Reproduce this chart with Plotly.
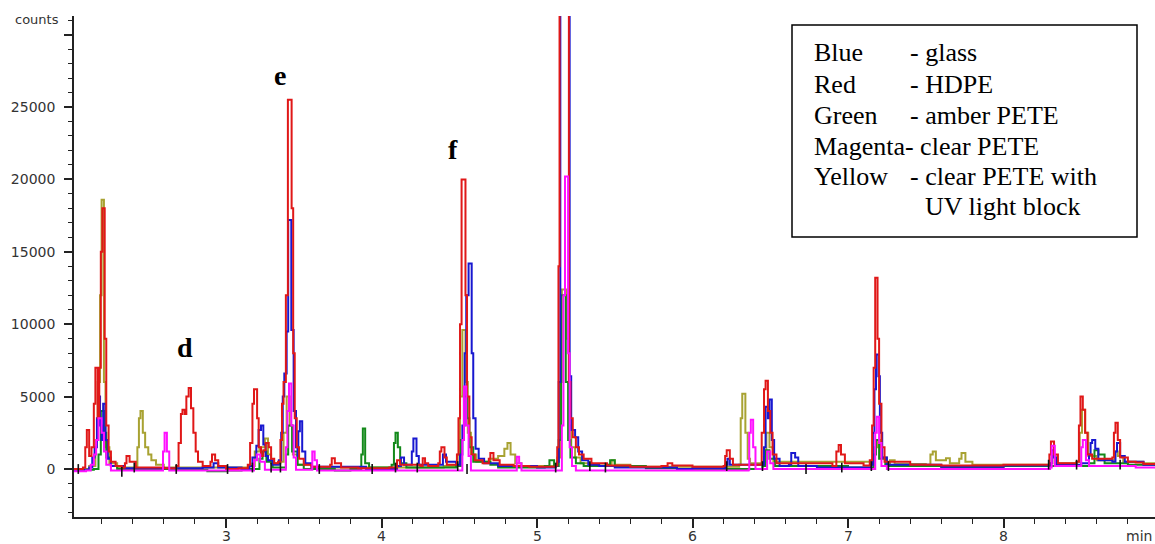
import plotly.graph_objects as go

# Retention time (min) / detector counts, one list of (time, counts) steps per bottle type
glass_blue = [
    (2.02, -50), (2.12, 100), (2.14, 800), (2.155, 1500), (2.17, 3500), (2.18, 5000), (2.19, 3000),
    (2.20, 2000), (2.21, 4500), (2.225, 2000), (2.24, 700), (2.26, 200), (2.35, 50), (2.75, 50),
    (2.85, 100), (2.92, 400), (2.95, 100), (3.10, 0), (3.15, 200), (3.17, 800), (3.195, 1600),
    (3.21, 2700), (3.225, 3000), (3.24, 1700), (3.255, 900), (3.27, 600), (3.30, 300), (3.34, 600),
    (3.355, 2500), (3.365, 5000), (3.375, 6600), (3.39, 9500), (3.40, 17200), (3.42, 9600),
    (3.435, 4000), (3.45, 1500), (3.46, 900), (3.465, 2600), (3.475, 3300), (3.49, 1200), (3.51, 400),
    (3.55, 150), (3.90, 0), (4.10, 200), (4.125, 800), (4.145, 300), (4.195, 1200), (4.205, 2100),
    (4.225, 900), (4.24, 300), (4.38, 300), (4.395, 1000), (4.415, 500), (4.48, 300), (4.505, 1000),
    (4.52, 3000), (4.535, 8000), (4.545, 12000), (4.56, 14200), (4.58, 8000), (4.59, 3500),
    (4.605, 1400), (4.625, 700), (4.66, 400), (4.75, 200), (5.00, 100), (5.12, 200), (5.13, 500),
    (5.14, 6000), (5.15, 45000), (5.20, 45000), (5.21, 6400), (5.22, 2700), (5.245, 2200),
    (5.265, 1200), (5.29, 600), (5.33, 300), (5.40, 200), (5.50, 100), (5.90, 0), (6.00, 50),
    (6.21, 300), (6.225, 700), (6.24, 300), (6.45, 300), (6.46, 1500), (6.47, 4300), (6.485, 3500),
    (6.495, 4800), (6.51, 2000), (6.525, 700), (6.56, 200), (6.62, 300), (6.635, 1100), (6.66, 800),
    (6.68, 200), (6.80, 100), (7.15, 300), (7.16, 2500), (7.17, 5500), (7.18, 7900), (7.195, 6400),
    (7.205, 2500), (7.22, 800), (7.25, 300), (7.60, 150), (8.00, 250), (8.30, 400), (8.31, 1300),
    (8.325, 800), (8.34, 300), (8.50, 400), (8.55, 1000), (8.56, 1800), (8.57, 2000), (8.59, 1400),
    (8.61, 600), (8.70, 500), (8.72, 1200), (8.73, 1800), (8.75, 900), (8.78, 500), (8.90, 300),
    (8.98, 200),
]

hdpe_red = [
    (2.02, 0), (2.08, 100), (2.095, 1500), (2.105, 2700), (2.12, 900), (2.135, 1500), (2.15, 4500),
    (2.16, 7000), (2.175, 3500), (2.185, 7000), (2.195, 15000), (2.205, 18000), (2.22, 9000),
    (2.23, 3000), (2.245, 1200), (2.26, 500), (2.29, 200), (2.33, 100), (2.35, 400), (2.36, 900),
    (2.38, 500), (2.42, 100), (2.60, 50), (2.68, 200), (2.695, 1800), (2.71, 3800), (2.72, 4100),
    (2.735, 3800), (2.745, 5000), (2.76, 5600), (2.775, 4200), (2.79, 2500), (2.805, 1200),
    (2.82, 500), (2.85, 200), (2.90, 500), (2.91, 1000), (2.93, 600), (2.95, 200), (3.00, 0),
    (3.08, 50), (3.14, 300), (3.155, 1800), (3.17, 4500), (3.18, 5500), (3.20, 3500), (3.21, 1500),
    (3.225, 900), (3.24, 1300), (3.255, 1800), (3.275, 1500), (3.29, 700), (3.31, 400),
    (3.335, 500), (3.35, 2000), (3.36, 4500), (3.37, 6000), (3.385, 12000), (3.398, 25500),
    (3.422, 18000), (3.432, 8000), (3.442, 3500), (3.455, 1500), (3.47, 700), (3.50, 300),
    (3.55, 150), (3.67, 300), (3.68, 750), (3.70, 400), (3.74, 100), (3.85, 50), (4.05, 100),
    (4.10, 600), (4.12, 300), (4.25, 200), (4.265, 750), (4.28, 400), (4.30, 200), (4.365, 400),
    (4.375, 1200), (4.385, 1500), (4.405, 800), (4.42, 300), (4.47, 300), (4.485, 1000),
    (4.495, 3500), (4.505, 10000), (4.515, 20000), (4.54, 12000), (4.55, 5000), (4.565, 2200),
    (4.58, 1000), (4.60, 600), (4.65, 400), (4.69, 700), (4.70, 1100), (4.72, 600), (4.76, 300),
    (4.85, 200), (4.95, 150), (5.05, 150), (5.12, 250), (5.13, 1500), (5.138, 14000),
    (5.145, 45000), (5.205, 6000), (5.215, 3500), (5.23, 2200), (5.25, 1500), (5.27, 1000),
    (5.30, 700), (5.35, 400), (5.45, 250), (5.60, 150), (5.80, 200), (5.84, 400), (5.87, 250),
    (6.00, 150), (6.20, 200), (6.21, 900), (6.22, 1300), (6.24, 700), (6.26, 300), (6.43, 300),
    (6.445, 2500), (6.46, 5500), (6.47, 6100), (6.485, 4000), (6.50, 2500), (6.515, 1000),
    (6.54, 400), (6.90, 200), (6.925, 1200), (6.94, 1650), (6.955, 1000), (6.98, 400), (7.10, 250),
    (7.14, 600), (7.155, 3000), (7.165, 7000), (7.175, 13200), (7.19, 9000), (7.20, 4500),
    (7.215, 1500), (7.235, 500), (7.40, 300), (7.60, 250), (8.00, 300), (8.25, 300), (8.295, 1000),
    (8.305, 1900), (8.325, 1000), (8.35, 400), (8.47, 500), (8.485, 3000), (8.495, 5000),
    (8.51, 4100), (8.525, 2500), (8.54, 1000), (8.57, 700), (8.70, 800), (8.71, 2500), (8.72, 3200),
    (8.735, 2000), (8.75, 800), (8.80, 500), (8.85, 450), (8.90, 350), (8.98, 300),
]

amber_pete_green = [
    (2.02, -50), (2.15, 0), (2.18, 1000), (2.195, 4000), (2.215, 2500), (2.23, 800), (2.26, 200),
    (2.30, 0), (2.80, -50), (2.88, -150), (3.00, -100), (3.10, 0), (3.215, 700), (3.235, 1200),
    (3.26, 500), (3.30, 100), (3.385, 1000), (3.40, 3000), (3.425, 1200), (3.46, 300), (3.50, 0),
    (3.70, -100), (3.80, 0), (3.87, 1000), (3.88, 2800), (3.895, 400), (3.92, 100), (4.065, 300),
    (4.08, 1800), (4.09, 2500), (4.105, 1500), (4.12, 400), (4.16, 100), (4.48, 200), (4.51, 2000),
    (4.53, 5000), (4.55, 3500), (4.565, 1500), (4.59, 500), (4.70, 300), (4.75, 100), (5.05, 200),
    (5.08, 600), (5.11, 200), (5.14, 2000), (5.155, 12000), (5.185, 6000), (5.20, 2000), (5.215, 800),
    (5.25, 400), (5.30, 200), (5.45, 300), (5.47, 600), (5.50, 200), (5.70, 50), (5.90, -50),
    (6.10, 0), (6.45, 200), (6.47, 1300), (6.495, 700), (6.53, 200), (7.00, 100), (7.165, 1000),
    (7.18, 2000), (7.20, 700), (7.24, 200), (7.60, 100), (8.00, 200), (8.55, 400), (8.585, 1300),
    (8.61, 1000), (8.65, 400), (8.80, 300), (8.98, 200),
]

clear_pete_magenta = [
    (2.02, -150), (2.10, -100), (2.13, 300), (2.15, 1000), (2.165, 2000), (2.18, 3500), (2.20, 2500),
    (2.215, 1200), (2.23, 300), (2.26, -100), (2.585, -100), (2.595, 1200), (2.605, 2500),
    (2.62, 1200), (2.635, -100), (3.165, -100), (3.18, 600), (3.20, 1000), (3.22, 500), (3.25, -50),
    (3.375, -50), (3.385, 1500), (3.395, 4000), (3.405, 5900), (3.42, 3000), (3.435, 800),
    (3.45, -50), (3.545, -50), (3.555, 1200), (3.57, 600), (3.585, -100), (4.51, -100), (4.52, 2000),
    (4.53, 5700), (4.545, 3000), (4.56, 900), (4.575, -100), (4.86, -100), (4.87, 850), (4.885, 400),
    (4.90, -100), (5.15, -100), (5.16, 3000), (5.17, 12000), (5.18, 20200), (5.20, 8000),
    (5.21, 1500), (5.225, 200), (5.25, -100), (6.36, -50), (6.365, 2500), (6.375, 3400),
    (6.39, 1500), (6.405, 0), (6.47, 0), (6.48, 1200), (6.50, 400), (6.52, 0), (7.165, 0),
    (7.175, 2500), (7.185, 3600), (7.20, 1800), (7.215, 200), (7.25, 0), (8.30, 100), (8.31, 1600),
    (8.33, 200), (8.49, 200), (8.50, 1500), (8.51, 2000), (8.53, 600), (8.55, 200), (8.85, 100),
    (8.98, 0),
]

uv_pete_yellow = [
    (2.02, 0), (2.12, 200), (2.16, 2000), (2.175, 6000), (2.19, 12000), (2.20, 18600), (2.215, 6000),
    (2.225, 1500), (2.25, 400), (2.30, 100), (2.42, 200), (2.43, 1500), (2.44, 3500), (2.45, 4000),
    (2.465, 2500), (2.48, 1500), (2.50, 1000), (2.52, 600), (2.55, 300), (2.60, 100), (2.90, 100),
    (3.15, 200), (3.185, 1200), (3.215, 1500), (3.25, 2100), (3.27, 1000), (3.29, 400), (3.35, 500),
    (3.37, 2500), (3.39, 5000), (3.41, 3000), (3.43, 1000), (3.46, 300), (3.55, 100), (4.40, 200),
    (4.49, 1000), (4.505, 5000), (4.52, 9600), (4.54, 6000), (4.555, 2500), (4.575, 1000),
    (4.61, 500), (4.70, 700), (4.75, 900), (4.79, 1400), (4.81, 1800), (4.83, 1000), (4.86, 400),
    (4.90, 200), (5.10, 200), (5.13, 800), (5.15, 6000), (5.16, 12400), (5.19, 9000), (5.205, 3000),
    (5.22, 1500), (5.245, 800), (5.28, 400), (5.35, 250), (5.46, 300), (5.48, 600), (5.50, 300),
    (5.60, 150), (6.00, 150), (6.30, 300), (6.31, 3500), (6.32, 5200), (6.34, 2500), (6.355, 700),
    (6.37, 400), (6.46, 500), (6.475, 2500), (6.495, 1500), (6.52, 500), (7.15, 300), (7.17, 1500),
    (7.19, 2000), (7.21, 800), (7.25, 400), (7.27, 600), (7.30, 350), (7.50, 300), (7.53, 1000),
    (7.545, 1200), (7.565, 600), (7.615, 600), (7.63, 750), (7.655, 400), (7.715, 700), (7.73, 1100),
    (7.755, 500), (7.80, 300), (8.00, 300), (8.30, 400), (8.315, 900), (8.335, 400), (8.47, 500),
    (8.49, 2500), (8.505, 4100), (8.525, 2500), (8.545, 900), (8.60, 600), (8.715, 1200),
    (8.735, 900), (8.77, 500), (8.85, 500), (8.90, 400), (8.98, 300),
]

# Integration event marks along the baseline
event_times = [2.05, 2.33, 2.41, 2.68, 3.01, 3.17, 3.29, 3.35, 3.60, 3.94, 4.09, 4.23, 4.49,
               4.55, 5.12, 5.34, 5.44, 6.22, 6.45, 6.73, 6.96, 7.15, 7.26, 8.29, 8.47, 8.75]
event_counts = [0, -200, 100, 0, 0, 100, 100, 100, 0, 0, 100, 100, 200,
                0, 100, 200, 100, 200, 200, 0, 100, 200, 200, 300, 300, 300]

y_tick_values = [0, 5000, 10000, 15000, 20000, 25000, 30000]
y_tick_labels = ["0", "5000", "10000", "15000", "20000", "25000", ""]
x_tick_values = [3, 4, 5, 6, 7, 8]

traces = [
    ("Yellow - clear PETE with UV light block", uv_pete_yellow, "#a8a232"),
    ("Green - amber PETE", amber_pete_green, "#13891a"),
    ("Blue - glass", glass_blue, "#1818d0"),
    ("Red - HDPE", hdpe_red, "#e01818"),
    ("Magenta - clear PETE", clear_pete_magenta, "#ff10ff"),
]

W, H = 1155, 544
ML, MR, MT, MB = 74, 0, 16, 27
PW, PH = W - ML - MR, H - MT - MB


def px(xp):
    return (xp - ML) / PW


def py(yp):
    return (H - MB - yp) / PH


fig = go.Figure()
for name, pts, color in traces:
    fig.add_trace(go.Scatter(
        x=[p[0] for p in pts], y=[p[1] for p in pts], name=name, mode="lines",
        line=dict(color=color, width=2, shape="hv"), showlegend=False,
    ))

fig.add_trace(go.Scatter(
    x=event_times, y=event_counts, mode="markers", showlegend=False,
    marker=dict(symbol="line-ns", size=7, line=dict(color="#111111", width=1.6)),
))

tick_font = dict(family="DejaVu Sans", size=14, color="#333333")

# x tick labels are written as annotations so they can sit tight under the tick marks
fig.update_xaxes(
    range=[2.0225, 2.0225 + PW / 155.5], tickvals=x_tick_values, ticks="outside", ticklen=9,
    tickwidth=1.5, tickcolor="#222222", showline=True, linecolor="#222222", linewidth=1.6,
    showgrid=False, zeroline=False, showticklabels=False, automargin=False,
    minor=dict(dtick=0.2, tick0=0, ticks="outside", ticklen=5, tickwidth=1.3, tickcolor="#222222"),
)
fig.update_yaxes(
    range=[-3315, 31284], tickvals=y_tick_values, ticktext=y_tick_labels, ticks="outside", ticklen=8,
    tickwidth=1.5, tickcolor="#222222", showline=True, linecolor="#222222", linewidth=1.6,
    showgrid=False, zeroline=False, tickfont=tick_font, ticklabelstandoff=6, automargin=False,
    minor=dict(dtick=1000, tick0=0, ticks="outside", ticklen=4, tickwidth=1.3, tickcolor="#222222"),
)

serif = "Liberation Serif, Times New Roman, serif"
annotations = [
    dict(x=px(37), y=py(20), text="counts", font=dict(family="DejaVu Sans", size=13, color="#333333")),
    dict(x=px(1154), y=py(536), text="min", xanchor="right", font=tick_font),
    dict(x=px(185), y=py(347), text="<b>d</b>", font=dict(family=serif, size=28, color="black")),
    dict(x=px(280), y=py(76), text="<b>e</b>", font=dict(family=serif, size=28, color="black")),
    dict(x=px(453), y=py(150), text="<b>f</b>", font=dict(family=serif, size=28, color="black")),
]
for v in x_tick_values:
    annotations.append(dict(x=v, xref="x", y=py(536), text=str(v), font=tick_font))

legend_rows = [
    ("Blue", "- glass", 53),
    ("Red", "- HDPE", 84),
    ("Green", "- amber PETE", 115),
    ("Magenta", "- clear PETE", 146),
    ("Yellow", "- clear PETE with", 176),
]
legend_font = dict(family=serif, size=26, color="black")
for label, desc, yc in legend_rows:
    if label == "Magenta":
        annotations.append(dict(x=px(812), y=py(yc), text="Magenta- clear PETE", xanchor="left",
                                font=legend_font))
    else:
        annotations.append(dict(x=px(812), y=py(yc), text=label, xanchor="left", font=legend_font))
        annotations.append(dict(x=px(908), y=py(yc), text=desc, xanchor="left", font=legend_font))
annotations.append(dict(x=px(923), y=py(207), text="UV light block", xanchor="left",
                        font=legend_font))

for a in annotations:
    a.setdefault("xanchor", "center")
    a.setdefault("xref", "paper")
    a.update(yref="paper", yanchor="middle", showarrow=False)

fig.update_layout(
    width=W, height=H, margin=dict(l=ML, r=MR, t=MT, b=MB),
    paper_bgcolor="white", plot_bgcolor="white",
    annotations=annotations,
    shapes=[dict(type="rect", xref="paper", yref="paper", x0=px(792), x1=px(1137),
                 y0=py(237), y1=py(25), line=dict(color="black", width=1.5), fillcolor="white",
                 layer="above")],
)

fig.write_html("out.html")
